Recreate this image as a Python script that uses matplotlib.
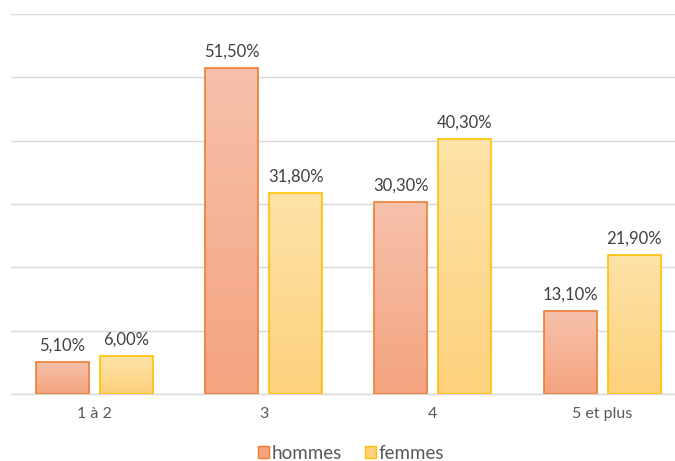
import numpy as np
import matplotlib.pyplot as plt
from matplotlib.patches import Patch
from matplotlib.colors import LinearSegmentedColormap

plt.rcParams['font.family'] = ['Lato', 'DejaVu Sans']

# Data
categories = ['1 à 2', '3', '4', '5 et plus']
hommes = [5.1, 51.5, 30.3, 13.1]
femmes = [6.0, 31.8, 40.3, 21.9]
series_names = ['hommes', 'femmes']

# Styles: (top colour, bottom colour, edge colour)
styles = [('#F7C1AB', '#F4A47F', '#ED7D31'),
          ('#FEE3A8', '#FDD17C', '#FFC000')]

fig = plt.figure(figsize=(6.75, 4.61), dpi=100)
ax = fig.add_axes([11 / 675, 67 / 461, 664 / 675, 380 / 461])

x = np.arange(len(categories))
width = 0.313
offset = 0.189

for vals, name, (top, bot, edge), sign in zip([hommes, femmes], series_names, styles, [-1, 1]):
    cmap = LinearSegmentedColormap.from_list(name, [bot, top])
    bars = ax.bar(x + sign * offset, vals, width, facecolor='none', edgecolor=edge,
                  linewidth=1.2, zorder=3, label=name)
    for b, v in zip(bars, vals):
        x0, w = b.get_x(), b.get_width()
        grad = np.linspace(0, 1, 100).reshape(-1, 1)
        im = ax.imshow(grad, cmap=cmap, origin='lower', aspect='auto',
                       extent=[x0, x0 + w, 0, v], zorder=2)
        im.set_clip_path(b)
        ax.annotate(f'{v:.2f}%'.replace('.', ','), (b.get_x() + w / 2, v),
                    xytext=(0, 6), textcoords='offset points', ha='center', va='bottom',
                    fontsize=12, color='#404040')

ax.set_xlim(-0.493, 3.43)
ax.set_ylim(0, 60)
ax.set_yticks(np.arange(0, 61, 10))
ax.set_yticklabels([])
ax.tick_params(left=False, bottom=False, labelsize=11.5, labelcolor='#595959', pad=6)
ax.set_xticks(x)
ax.set_xticklabels(categories)
ax.grid(axis='y', color='#D9D9D9', linewidth=1, zorder=0)
for s in ['top', 'right', 'left']:
    ax.spines[s].set_visible(False)
ax.spines['bottom'].set_color('#D9D9D9')
ax.spines['bottom'].set_linewidth(1)

handles = [Patch(facecolor=s[1], edgecolor=s[2], label=n) for s, n in zip(styles, series_names)]
fig.legend(handles=handles, loc='center', bbox_to_anchor=(0.52, 1 - 453 / 461), ncol=2,
           frameon=False, fontsize=13.5, labelcolor='#595959', handlelength=0.6,
           handleheight=0.6, handletextpad=0.15, columnspacing=1.2)

fig.savefig('out.png', dpi=100)
